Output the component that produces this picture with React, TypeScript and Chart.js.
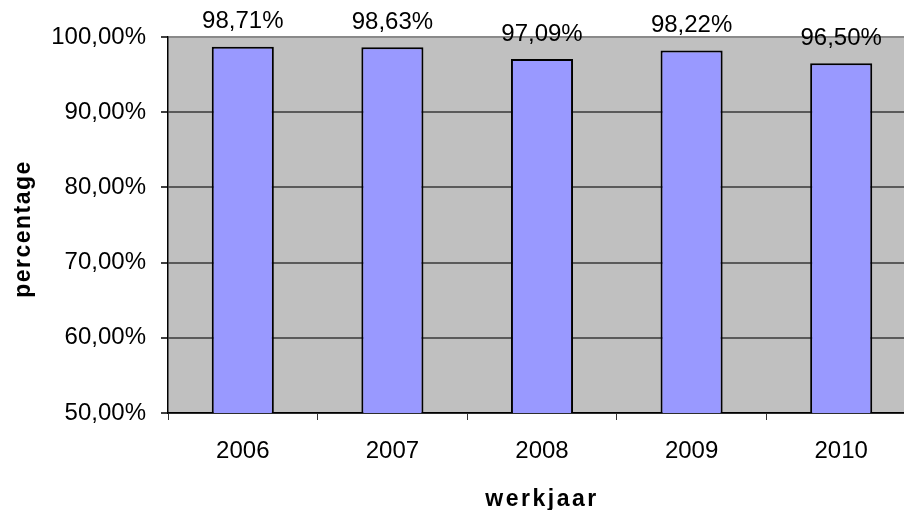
import React, { useEffect, useRef } from 'react';
import { Chart, registerables } from 'chart.js';

Chart.register(...registerables);

const categories = ['2006', '2007', '2008', '2009', '2010'];
const values = [98.71, 98.63, 97.09, 98.22, 96.5];
const yMin = 50;
const yMax = 100;
const yStep = 10;
const xTitle = 'werkjaar';
const yTitle = 'percentage';

const FONT = '"Liberation Sans", Arial, sans-serif';
const fmt = (v: number) => v.toFixed(2).replace('.', ',') + '%';

const bgPlugin = {
  id: 'plotBg',
  beforeDraw(chart: any) {
    const { ctx, chartArea: a } = chart;
    ctx.save();
    ctx.fillStyle = '#C0C0C0';
    ctx.fillRect(a.left, a.top, a.right - a.left, a.bottom - a.top);
    ctx.restore();
  },
};

const labelPlugin = {
  id: 'barLabels',
  afterDatasetsDraw(chart: any) {
    const { ctx } = chart;
    const meta = chart.getDatasetMeta(0);
    ctx.save();
    ctx.font = `24px ${FONT}`;
    ctx.fillStyle = '#000';
    ctx.textAlign = 'center';
    ctx.textBaseline = 'middle';
    meta.data.forEach((el: any, i: number) => {
      ctx.fillText(fmt(values[i]), el.x, el.y - 25);
    });
    ctx.restore();
  },
};

const titlePlugin = {
  id: 'axisTitles',
  afterDraw(chart: any) {
    const { ctx, chartArea: a } = chart;
    ctx.save();
    ctx.font = `bold 23px ${FONT}`;
    ctx.fillStyle = '#000';
    ctx.textAlign = 'center';
    ctx.textBaseline = 'alphabetic';
    (ctx as any).letterSpacing = '2.5px';
    const cx = (a.left + a.right) / 2;
    ctx.fillText(xTitle, cx, 506);
    (ctx as any).letterSpacing = '1.5px';
    ctx.translate(30, (a.top + a.bottom) / 2 + 4);
    ctx.rotate(-Math.PI / 2);
    ctx.fillText(yTitle, 0, 0);
    ctx.restore();
  },
};

export default function App() {
  const ref = useRef<HTMLCanvasElement | null>(null);

  useEffect(() => {
    if (!ref.current) return;
    const chart = new Chart(ref.current, {
      type: 'bar',
      data: {
        labels: categories,
        datasets: [
          {
            data: values,
            backgroundColor: '#9999FF',
            borderColor: '#000',
            borderWidth: 2,
            barPercentage: 0.415,
            categoryPercentage: 1,
          },
        ],
      },
      options: {
        animation: false,
        responsive: false,
        devicePixelRatio: 1,
        layout: { padding: { top: 37, left: 0, right: 0, bottom: 0 } },
        plugins: {
          legend: { display: false },
          tooltip: { enabled: false },
          title: { display: false },
        },
        scales: {
          x: {
            grid: {
              offset: true,
              drawOnChartArea: false,
              drawTicks: true,
              tickLength: 7,
              tickColor: '#333',
              tickWidth: 1,
            },
            border: { color: '#000', width: 1.5 },
            ticks: { font: { family: FONT, size: 24 }, color: '#000', padding: 17 },
            afterFit: (s: any) => {
              s.height = 97;
            },
          },
          y: {
            min: yMin,
            max: yMax,
            ticks: {
              stepSize: yStep,
              callback: (v: any) => fmt(Number(v)),
              font: { family: FONT, size: 24 },
              color: '#000',
              padding: 15,
            },
            grid: {
              color: (c: any) => (c.tick && c.tick.value === yMax ? '#8a8a8a' : '#5a5a5a'),
              lineWidth: 2,
              tickColor: '#000',
              tickWidth: 1.5,
              tickLength: 7,
              drawTicks: true,
            },
            border: { color: '#000', width: 1.5 },
            afterFit: (s: any) => {
              s.width = 168;
            },
          },
        },
      },
      plugins: [bgPlugin, labelPlugin, titlePlugin],
    });
    return () => chart.destroy();
  }, []);

  return (
    <div
      style={{
        position: 'fixed',
        left: 0,
        top: 0,
        width: 904,
        height: 510,
        overflow: 'hidden',
        background: '#fff',
      }}
    >
      <canvas ref={ref} width={916} height={510} style={{ display: 'block' }} />
    </div>
  );
}
